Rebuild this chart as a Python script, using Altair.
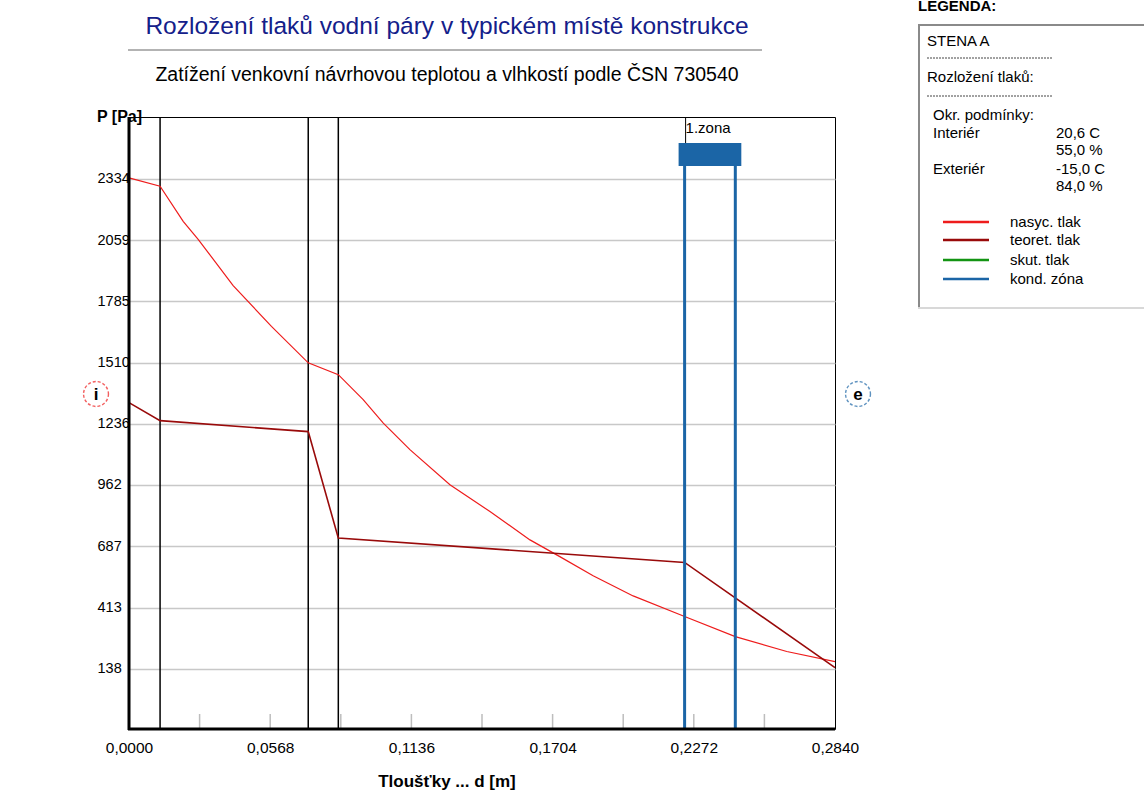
import altair as alt
import pandas as pd

FONT = "Liberation Sans"

# ---------------- data ----------------
layer_bounds = [0.0125, 0.0721, 0.0842]

sat_d = [0.0, 0.0125, 0.0218, 0.0279, 0.0419, 0.0573, 0.0721, 0.0842, 0.0942, 0.1023,
         0.1130, 0.1291, 0.1452, 0.1613, 0.1733, 0.1867, 0.2028, 0.2235, 0.2439, 0.2646, 0.2840]
sat_p = [2337, 2300, 2143, 2061, 1855, 1672, 1509, 1456, 1344, 1239,
         1120, 963, 843, 716, 641, 555, 465, 373, 283, 216, 171]

theo_d = [0.0, 0.0125, 0.0721, 0.0842, 0.2235, 0.2840]
theo_p = [1331, 1250, 1201, 724, 615, 144]

zone_start = [0.2235]
zone_end = [0.2439]
zone_label = ["1.zona"]

x_label_values = [0.0, 0.0568, 0.1136, 0.1704, 0.2272, 0.2840]
x_minor_ticks = [0.0284, 0.0568, 0.0852, 0.1136, 0.1420, 0.1704, 0.1988, 0.2272, 0.2556]
y_tick_values = [138, 413, 687, 962, 1236, 1510, 1785, 2059, 2334]

legend_names = ["nasyc. tlak", "teoret. tlak", "skut. tlak", "kond. zóna"]
legend_colors = ["#ee1c1c", "#990a0a", "#139413", "#1b65a6"]

title_text = "Rozložení tlaků vodní páry v typickém místě konstrukce"
subtitle_text = "Zatížení venkovní návrhovou teplotou a vlhkostí podle ČSN 730540"
cond_labels = ["Interiér", "", "Exteriér", ""]
cond_values = ["20,6 C", "55,0 %", "-15,0 C", "84,0 %"]

RED = legend_colors[0]
BROWN = legend_colors[1]
BLUE = legend_colors[3]

W, H = 706, 612

xscale = alt.Scale(domain=[0, 0.284], nice=False, zero=False)
yscale = alt.Scale(domain=[-131, 2610], nice=False, zero=False)

x_axis = alt.Axis(values=x_label_values, grid=False, ticks=False, domain=False,
                  labelExpr="replace(format(datum.value, '.4f'), '.', ',')",
                  labelFontSize=15.5, labelPadding=11, labelColor="black",
                  labelFlush=False, labelOverlap=False,
                  labelFont=FONT, title=None)
y_axis = alt.Axis(values=y_tick_values, grid=True, gridColor="#c8c8c8", format="d",
                  gridWidth=1.5, ticks=False, domain=False,
                  labelAlign="left", labelPadding=32, labelFontSize=14.5,
                  labelColor="black", labelFont=FONT, title=None)


def X(field):
    return alt.X(field, scale=xscale, axis=x_axis)


sat_df = pd.DataFrame({"d": sat_d, "p": sat_p})
theo_df = pd.DataFrame({"d": theo_d, "p": theo_p})
zone_df = pd.DataFrame({"start": zone_start, "end": zone_end, "lab": zone_label})
one = pd.DataFrame({"a": [0]})


def label(text, x, y, size=15, weight="normal", color="black", align="left",
          baseline="middle", font=FONT):
    return alt.Chart(pd.DataFrame({"t": [text]})).mark_text(
        align=align, baseline=baseline, fontSize=size, fontWeight=weight,
        color=color, font=font
    ).encode(x=alt.value(x), y=alt.value(y), text="t:N")


def hrule(x1, x2, y, color, width, dash=None):
    kw = dict(color=color, strokeWidth=width)
    if dash:
        kw["strokeDash"] = dash
    return alt.Chart(one).mark_rule(**kw).encode(x=alt.value(x1), x2=alt.value(x2), y=alt.value(y))


# minor ticks at bottom (inside)
minor = alt.Chart(pd.DataFrame({"d": x_minor_ticks})).mark_rule(
    color="#bdbdbd", strokeWidth=1.5
).encode(x=X("d:Q"), y=alt.value(H - 15), y2=alt.value(H))

# layer boundaries
layers = alt.Chart(pd.DataFrame({"d": layer_bounds})).mark_rule(
    color="black", strokeWidth=1.5
).encode(x=X("d:Q"), y=alt.value(0), y2=alt.value(H))

sat_line = alt.Chart(sat_df).mark_line(color=RED, strokeWidth=1.2).encode(
    x=X("d:Q"), y=alt.Y("p:Q", scale=yscale, axis=y_axis)
)
theo_line = alt.Chart(theo_df).mark_line(color=BROWN, strokeWidth=1.6).encode(
    x=X("d:Q"), y=alt.Y("p:Q", scale=yscale, axis=y_axis)
)

zone_lines_a = alt.Chart(zone_df).mark_rule(color=BLUE, strokeWidth=3).encode(
    x=X("start:Q"), y=alt.value(40), y2=alt.value(H)
)
zone_lines_b = alt.Chart(zone_df).mark_rule(color=BLUE, strokeWidth=3).encode(
    x=X("end:Q"), y=alt.value(40), y2=alt.value(H)
)
zone_box = alt.Chart(zone_df).mark_rect(color=BLUE, xOffset=-6, x2Offset=6).encode(
    x=X("start:Q"), x2="end", y=alt.value(26), y2=alt.value(49)
)
zone_tick = alt.Chart(zone_df).mark_rule(color="black", strokeWidth=1, xOffset=1).encode(
    x=X("start:Q"), y=alt.value(0), y2=alt.value(26)
)
zone_text = alt.Chart(zone_df).mark_text(
    align="left", baseline="middle", fontSize=15, font=FONT, color="black", dx=1
).encode(x=X("start:Q"), y=alt.value(11), text="lab:N")

# thick left & bottom axis lines
left_axis = alt.Chart(one).mark_rule(color="black", strokeWidth=3).encode(
    x=alt.value(0), y=alt.value(0), y2=alt.value(H + 1))
bottom_axis = hrule(-1, W, H, "black", 3)

# title area
title = label(title_text, 318, -90, size=24.5, color="#14208a", align="center")
title_rule = hrule(-1, 633, -67, "#9a9a9a", 1.5)
subtitle = label(subtitle_text, 318, -42, size=19.5, align="center")
ytitle = label("P [Pa]", -32, 0, size=16, weight="bold")
xtitle = label("Tloušťky ... d [m]", 318, 665, size=17, weight="bold", align="center")

# i / e markers
i_circle = alt.Chart(one).mark_point(
    shape="circle", filled=False, size=620, color=RED, strokeWidth=1.4, strokeDash=[3, 2]
).encode(x=alt.value(-33), y=alt.value(277))
e_circle = alt.Chart(one).mark_point(
    shape="circle", filled=False, size=620, color=BLUE, strokeWidth=1.4, strokeDash=[3, 2]
).encode(x=alt.value(729), y=alt.value(277))
i_text = label("i", -33, 278, size=17, weight="bold", align="center")
e_text = label("e", 729, 278, size=17, weight="bold", align="center")

# legend panel
LX = 789
legend_title = label("LEGENDA:", LX, -106, size=15, weight="bold", baseline="alphabetic")
legend_box = alt.Chart(one).mark_rect(
    fill="white", stroke="#8a8a8a", strokeWidth=2
).encode(x=alt.value(LX + 1), x2=alt.value(1030), y=alt.value(-92), y2=alt.value(191))
legend_bottom = hrule(LX, 1030, 191, "#d8d8d8", 2)
stena = label("STENA A", LX + 9, -76)
dash1 = hrule(LX + 9, LX + 134, -59, "#444444", 1, [2, 1])
rozl = label("Rozložení tlaků:", LX + 9, -40)
dash2 = hrule(LX + 9, LX + 134, -21, "#444444", 1, [2, 1])
okr = label("Okr. podmínky:", LX + 15, -2)

extra = []
cond_y = [16, 33, 52, 69]
for lab, val, yy in zip(cond_labels, cond_values, cond_y):
    if lab:
        extra.append(label(lab, LX + 15, yy))
    extra.append(label(val, LX + 138, yy))

leg_y = [105, 123, 143, 162]
for name, col, yy in zip(legend_names, legend_colors, leg_y):
    extra.append(hrule(LX + 25, LX + 71, yy, col, 2.6))
    extra.append(label(name, LX + 92, yy))

chart = alt.layer(
    minor, layers, sat_line, theo_line, zone_lines_a, zone_lines_b, zone_box, zone_tick,
    zone_text, left_axis, bottom_axis, title, title_rule, subtitle, ytitle, xtitle,
    i_circle, e_circle, i_text, e_text,
    legend_title, legend_box, legend_bottom, stena, dash1, rozl, dash2, okr,
    *extra,
).properties(
    width=W, height=H, autosize="none",
    padding={"left": 129, "top": 117, "right": 1144 - 129 - W, "bottom": 792 - 117 - H},
    background="white",
).configure_view(stroke="black", strokeWidth=1)

chart.save("out.html", embed_options={"renderer": "svg", "actions": False})
